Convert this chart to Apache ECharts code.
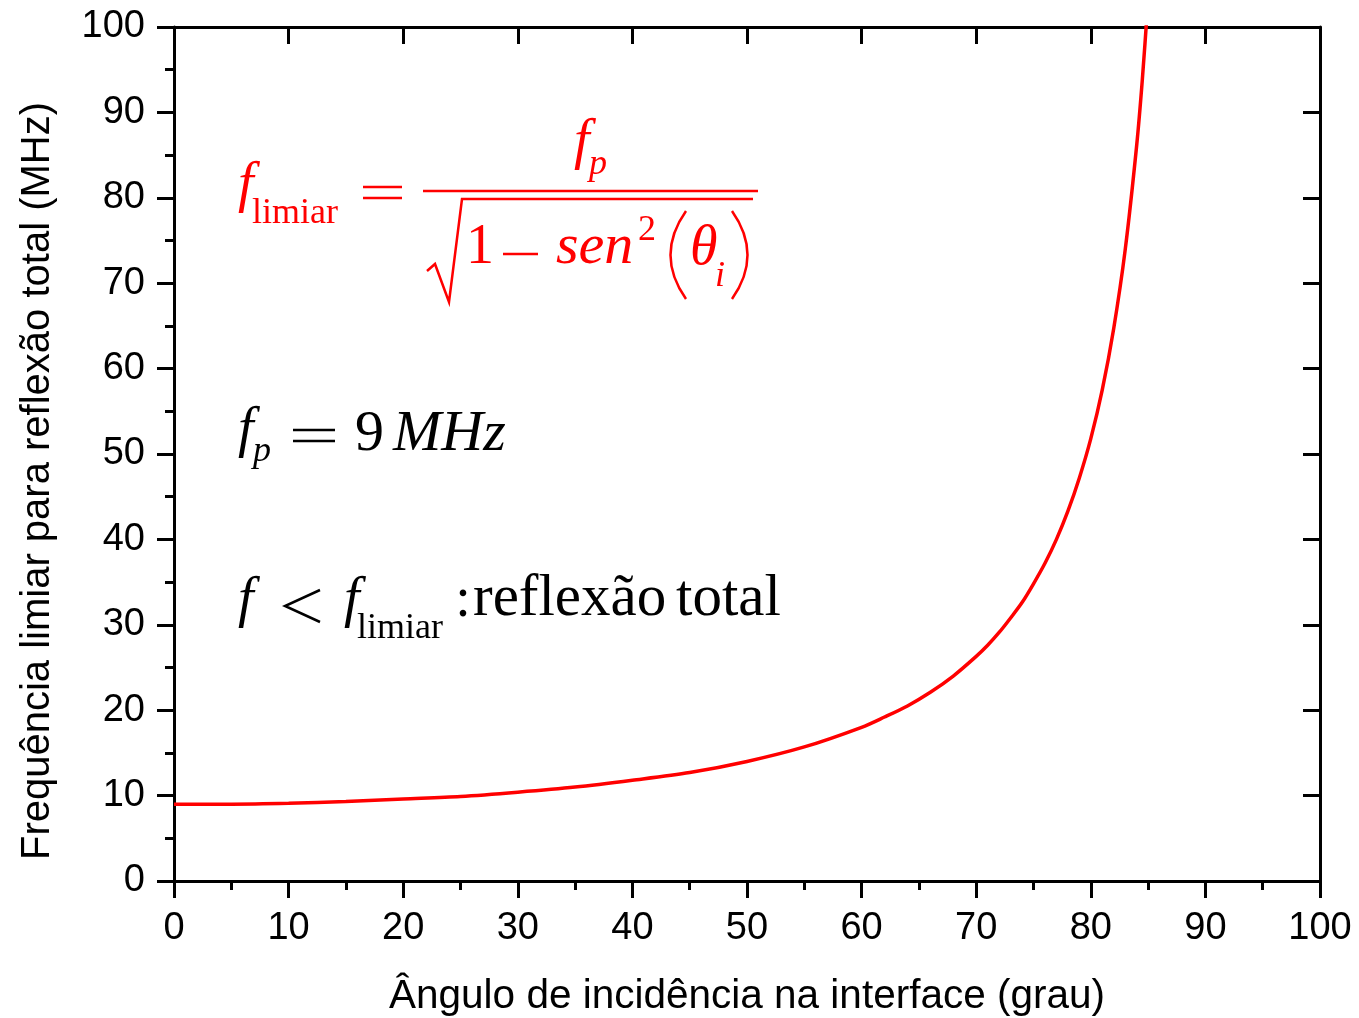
<!DOCTYPE html>
<html>
<head>
<meta charset="utf-8">
<script src="https://cdn.jsdelivr.net/npm/echarts@6/dist/echarts.min.js"></script>
<style>
html,body{margin:0;padding:0;background:#fff;}
#chart{width:1359px;height:1018px;}
</style>
</head>
<body>
<div id="chart"></div>
<script>
// Data
var angles = [0, 5, 10, 15, 20, 25, 30, 35, 40, 45, 50, 55, 60, 62, 64, 66, 68, 70, 71, 72, 73, 74, 75, 76, 77, 78, 79, 80, 81, 82, 83, 84, 84.5, 85];
var freqs  = [9.0, 9.0, 9.1, 9.3, 9.6, 9.9, 10.4, 11.0, 11.8, 12.7, 14.0, 15.7, 18.0, 19.2, 20.5, 22.1, 24.0, 26.3, 27.6, 29.1, 30.8, 32.6, 34.8, 37.2, 40.0, 43.3, 47.2, 51.8, 57.5, 64.7, 73.9, 86.1, 93.9, 103.3];
var xTicks = [0, 10, 20, 30, 40, 50, 60, 70, 80, 90, 100];
var yTicks = [0, 10, 20, 30, 40, 50, 60, 70, 80, 90, 100];
var xTitle = 'Ângulo de incidência na interface (grau)';
var yTitle = 'Frequência limiar para reflexão total (MHz)';

var points = angles.map(function (a, i) { return [a, freqs[i]]; });

var SANS = '"Liberation Sans", Arial, sans-serif';
var SERIF = '"Liberation Serif", "Times New Roman", serif';
var RED = '#ff0000';

function txt(str, x, base, size, italic, color, align) {
  return {
    type: 'text', silent: true, z: 100,
    x: x, y: base - 0.34 * size,
    style: {
      text: str, fill: color, fontFamily: SERIF, fontSize: size,
      fontStyle: italic ? 'italic' : 'normal',
      align: align || 'left', verticalAlign: 'middle'
    }
  };
}
function seg(x1, y1, x2, y2, color, w) {
  return { type: 'line', silent: true, z: 100,
    shape: { x1: x1, y1: y1, x2: x2, y2: y2 },
    style: { stroke: color, lineWidth: w || 2.5 } };
}

var M = 56, S = 36;
var graphics = [
  // red formula
  txt('f', 238, 205, M, true, RED),
  txt('limiar', 252, 226, S, false, RED),
  seg(363, 187, 402, 187, RED), seg(363, 198, 402, 198, RED),
  txt('f', 574, 162, M, true, RED),
  txt('p', 589, 177, S, true, RED),
  seg(423, 191, 758, 191, RED, 2.5),
  { type: 'polyline', silent: true, z: 100,
    shape: { points: [[427, 271], [435, 264], [449, 302], [462, 199], [753, 199]] },
    style: { stroke: RED, lineWidth: 2.5, fill: null } },
  txt('1', 466, 267, M, false, RED),
  seg(503, 254, 538, 254, RED, 2.5),
  txt('sen', 556, 267, 58, true, RED),
  txt('2', 638, 243, S, false, RED),
  { type: 'bezierCurve', silent: true, z: 100,
    shape: { x1: 686, y1: 211, x2: 686, y2: 299, cpx1: 655, cpy1: 255 },
    style: { stroke: RED, lineWidth: 2.5, fill: null } },
  txt('\u03b8', 690, 268, M, true, RED),
  txt('i', 715, 289, S, true, RED),
  { type: 'bezierCurve', silent: true, z: 100,
    shape: { x1: 732, y1: 211, x2: 732, y2: 299, cpx1: 763, cpy1: 255 },
    style: { stroke: RED, lineWidth: 2.5, fill: null } },
  // f_p = 9 MHz
  txt('f', 238, 450, M, true, '#000'),
  txt('p', 253, 464, S, true, '#000'),
  seg(293, 430, 335, 430, '#000'), seg(293, 441, 335, 441, '#000'),
  txt('9', 355, 454, 58, false, '#000'),
  txt('MHz', 393, 454, 58, true, '#000'),
  // f < f_limiar : reflexão total
  txt('f', 238, 620, M, true, '#000'),
  { type: 'polyline', silent: true, z: 100,
    shape: { points: [[320, 590], [285, 606], [320, 622]] },
    style: { stroke: '#000', lineWidth: 2.5, fill: null } },
  txt('f', 344, 620, M, true, '#000'),
  txt('limiar', 357, 641, S, false, '#000'),
  txt(':', 463, 620, M, false, '#000', 'center'),
  txt('reflexão', 473, 620, 59, false, '#000'),
  txt('total', 676, 620, 59, false, '#000'),
  // axis titles
  { type: 'text', silent: true, x: 747, y: 997,
    style: { text: xTitle, fill: '#000', fontFamily: SANS, fontSize: 40.5, align: 'center', verticalAlign: 'middle' } },
  { type: 'text', silent: true, x: 38, y: 481, rotation: Math.PI / 2,
    style: { text: yTitle, fill: '#000', fontFamily: SANS, fontSize: 40, align: 'center', verticalAlign: 'middle' } }
];

var axisLineStyle = { color: '#000', width: 3 };
var chart = echarts.init(document.getElementById('chart'), null, { renderer: 'canvas' });
chart.setOption({
  animation: false,
  backgroundColor: '#fff',
  grid: { left: 174, right: 39, top: 27, bottom: 137, containLabel: false },
  xAxis: [
    { type: 'value', position: 'bottom', min: 0, max: 100, interval: 10,
      axisLine: { show: true, lineStyle: axisLineStyle },
      axisTick: { show: true, inside: false, length: 17, lineStyle: { color: '#000', width: 3 } },
      minorTick: { show: true, splitNumber: 2, length: 9, lineStyle: { color: '#000', width: 3 } },
      axisLabel: { show: true, margin: 29, color: '#000', fontFamily: SANS, fontSize: 38,
        formatter: function (v) { return xTicks.indexOf(v) >= 0 ? String(v) : ''; } },
      splitLine: { show: false }, minorSplitLine: { show: false } },
    { type: 'value', position: 'top', min: 0, max: 100, interval: 10,
      axisLine: { show: true, onZero: false, lineStyle: axisLineStyle },
      axisTick: { show: true, inside: true, length: 17, lineStyle: { color: '#000', width: 3 } },
      axisLabel: { show: false }, splitLine: { show: false } }
  ],
  yAxis: [
    { type: 'value', position: 'left', min: 0, max: 100, interval: 10,
      axisLine: { show: true, onZero: false, lineStyle: axisLineStyle },
      axisTick: { show: true, inside: false, length: 17, lineStyle: { color: '#000', width: 3 } },
      minorTick: { show: true, splitNumber: 2, length: 9, lineStyle: { color: '#000', width: 3 } },
      axisLabel: { show: true, margin: 29, color: '#000', fontFamily: SANS, fontSize: 38,
        formatter: function (v) { return yTicks.indexOf(v) >= 0 ? String(v) : ''; } },
      splitLine: { show: false }, minorSplitLine: { show: false } },
    { type: 'value', position: 'right', min: 0, max: 100, interval: 10,
      axisLine: { show: true, onZero: false, lineStyle: axisLineStyle },
      axisTick: { show: true, inside: true, length: 17, lineStyle: { color: '#000', width: 3 } },
      axisLabel: { show: false }, splitLine: { show: false } }
  ],
  series: [
    { type: 'line', xAxisIndex: 0, yAxisIndex: 0, data: points,
      showSymbol: false, smooth: 0.3, clip: true,
      lineStyle: { color: RED, width: 3.5 }, z: 5 }
  ],
  graphic: graphics
});
</script>
</body>
</html>
